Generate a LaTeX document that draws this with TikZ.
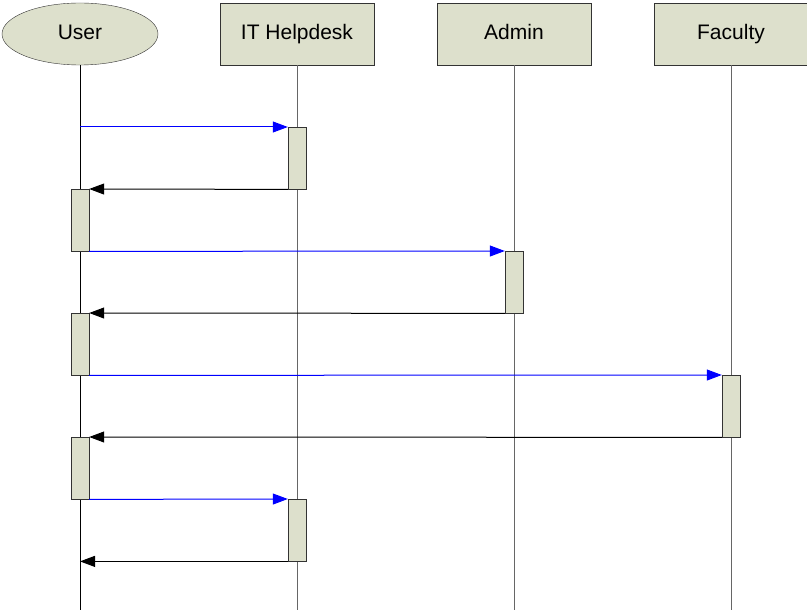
\documentclass[tikz,border=0pt]{standalone}
\usepackage{fontspec}
\setmainfont{Liberation Sans}
\usetikzlibrary{shapes.geometric}
\usetikzlibrary{arrows.meta}
\definecolor{boxfill}{RGB}{221,224,204}
\begin{document}
\begin{tikzpicture}[x=1pt,y=-1pt,
    actor/.style={draw=black!80,fill=boxfill,font=\fontsize{21}{25}\selectfont,inner sep=0pt,text height=15pt,text depth=3pt},
    head/.style={actor,rectangle,minimum width=154pt,minimum height=62pt},
    activation/.style={draw=black!80,fill=boxfill,rectangle,anchor=north,minimum width=18pt,minimum height=62pt,inner sep=0pt},
    lifeline/.style={draw=black!60,line width=1pt},
    call/.style={draw=blue,line width=1pt,-{Triangle[length=15pt,width=11pt]}},
    reply/.style={draw=black,line width=1pt,-{Triangle[length=15pt,width=11pt]}}]
    \useasboundingbox (0,0) rectangle (807,612);
    % header row
    \node [actor,ellipse,minimum width=156pt,minimum height=62pt] (user) at (80,34) {User};
    \node [head] (it) at (297,34) {IT Helpdesk};
    \node [head] (admin) at (514,34) {Admin};
    \node [head] (faculty) at (731,34) {Faculty};
    % lifelines
    \foreach \who in {it,admin,faculty}{
        \coordinate (\who end) at (\who.center |- 0,610);
        \draw [lifeline] (\who.south) -- (\who end);
    }
    \coordinate (user end) at (user.center |- 0,610);
    \draw [black,line width=1pt] (user.south) -- (user end);
    % activations
    \node [activation] (it1) at (297,127) {};
    \node [activation] (ua1) at (80,189) {};
    \node [activation] (ad1) at (514,251) {};
    \node [activation] (ua2) at (80,313) {};
    \node [activation] (fa1) at (731,375) {};
    \node [activation] (ua3) at (80,437) {};
    \node [activation] (it2) at (297,499) {};
    % messages
    \draw [call] (user |- it1.north west) -- (it1.north west);
    \draw [reply] (it1.south west) -- (ua1.north east);
    \draw [call] (ua1.south east) -- (ad1.north west);
    \draw [reply] (ad1.south west) -- (ua2.north east);
    \draw [call] (ua2.south east) -- (fa1.north west);
    \draw [reply] (fa1.south west) -- (ua3.north east);
    \draw [call] (ua3.south east) -- (it2.north west);
    \draw [reply] (it2.south west) -- (user |- it2.south west);
\end{tikzpicture}
\end{document}
